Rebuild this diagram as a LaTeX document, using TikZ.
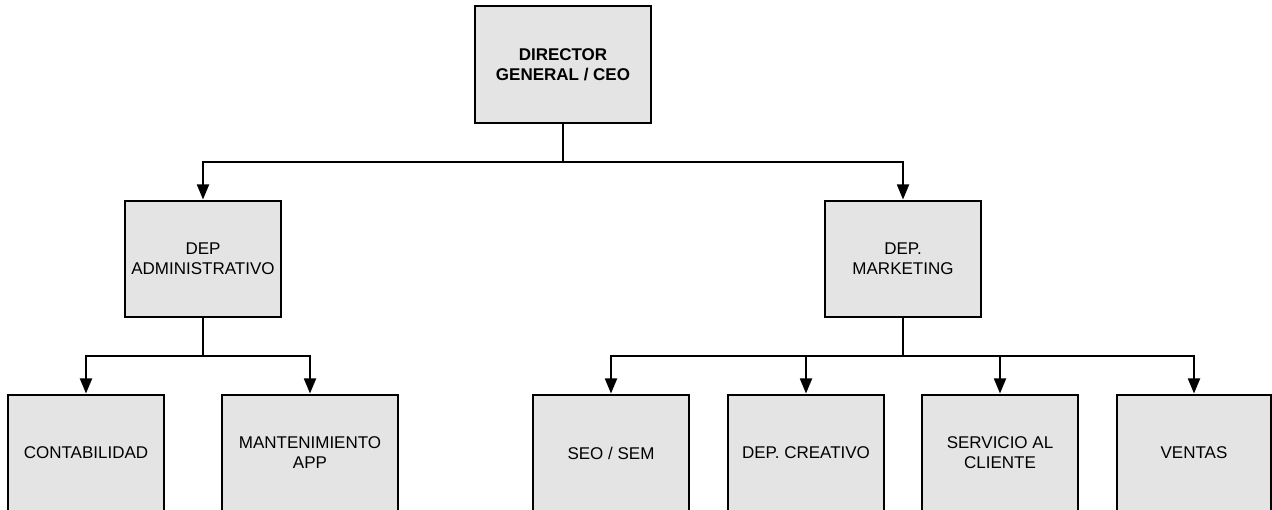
\documentclass[tikz,border=0pt]{standalone}
\usepackage{fontspec}
\setmainfont{Liberation Sans}
\usetikzlibrary{arrows.meta}
\definecolor{boxfill}{RGB}{228,228,228}
\begin{document}
\begin{tikzpicture}[x=1pt,y=-1pt,
  unit/.style={draw=black, line width=1.8pt, fill=boxfill, inner sep=0pt, outer sep=0pt,
    minimum height=116pt, align=center, font=\fontsize{17}{20}\selectfont},
  link/.style={line width=1.8pt, draw=black},
  arr/.style={link, -{Triangle[length=15pt,width=12pt]}, shorten >=1.5pt}]
\useasboundingbox (0,0) rectangle (1272,510);

% top level
\node[unit, minimum width=176pt, minimum height=117pt, font=\fontsize{17}{20}\selectfont\bfseries]
  (ceo) at (563,64.5) {DIRECTOR\\GENERAL / CEO};

% departments
\node[unit, minimum width=156pt] (adm) at (203,259) {DEP\\ADMINISTRATIVO};
\node[unit, minimum width=156pt] (mkt) at (903,259) {DEP.\\MARKETING};

% administrative units
\node[unit, minimum width=156pt] (cont) at (86,453) {CONTABILIDAD};
\node[unit, minimum width=176pt] (mant) at (310,453) {MANTENIMIENTO\\APP};

% marketing units
\node[unit, minimum width=156pt] (seo) at (611,453) {SEO / SEM};
\node[unit, minimum width=156pt] (crea) at (806,453) {DEP. CREATIVO};
\node[unit, minimum width=156pt] (serv) at (1000,453) {SERVICIO AL\\CLIENTE};
\node[unit, minimum width=154pt] (vent) at (1194,453) {VENTAS};

% bus junctions
\coordinate (b0) at (563,162);
\coordinate (b1) at (203,356);
\coordinate (b2) at (903,356);

\draw[link] (ceo.south) -- (b0);
\draw[arr] (b0) -| (adm.north);
\draw[arr] (b0) -| (mkt.north);

\draw[link] (adm.south) -- (b1);
\draw[arr] (b1) -| (cont.north);
\draw[arr] (b1) -| (mant.north);

\draw[link] (mkt.south) -- (b2);
\draw[arr] (b2) -| (seo.north);
\draw[arr] (b2) -| (crea.north);
\draw[arr] (b2) -| (serv.north);
\draw[arr] (b2) -| (vent.north);
\end{tikzpicture}
\end{document}
